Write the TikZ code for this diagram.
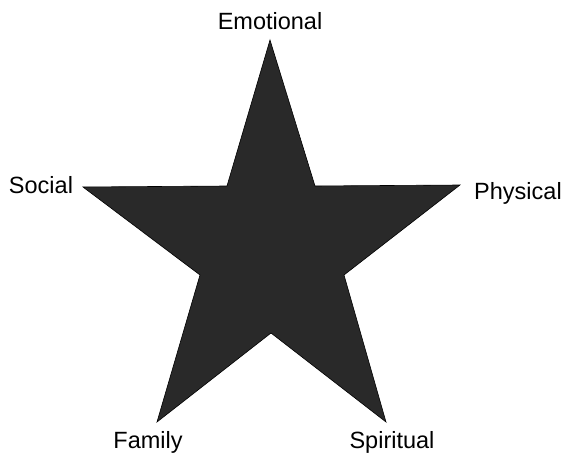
\documentclass[tikz,border=0pt]{standalone}
\usepackage{fontspec}
\setmainfont{Liberation Sans}
\begin{document}
\begin{tikzpicture}[x=1pt,y=-1pt,
  lbl/.style={font=\fontsize{23.5}{26}\selectfont, inner sep=0pt, anchor=base},
  starfill/.style={fill=black!84, draw=black, line width=0.6pt, line join=miter}]
\useasboundingbox (0,0) rectangle (566,454);
\coordinate (T) at (270,40);
\coordinate (UR) at (315,186);
\coordinate (R) at (460,185);
\coordinate (LR) at (344,275);
\coordinate (BR) at (386,422);
\coordinate (B) at (271,333);
\coordinate (BL) at (157,422);
\coordinate (LL) at (200,275);
\coordinate (L) at (83,187);
\coordinate (UL) at (227,186);
\path[starfill] (T) -- (UR) -- (R) -- (LR) -- (BR) -- (B) -- (BL) -- (LL) -- (L) -- (UL) -- cycle;
\node[lbl] (emo) at (270,30) {Emotional};
\node[lbl] (soc) at (41,194) {Social};
\node[lbl] (phy) at (518,200) {Physical};
\node[lbl] (fam) at (148,449) {Family};
\node[lbl] (spi) at (392,449) {Spiritual};
\end{tikzpicture}
\end{document}
